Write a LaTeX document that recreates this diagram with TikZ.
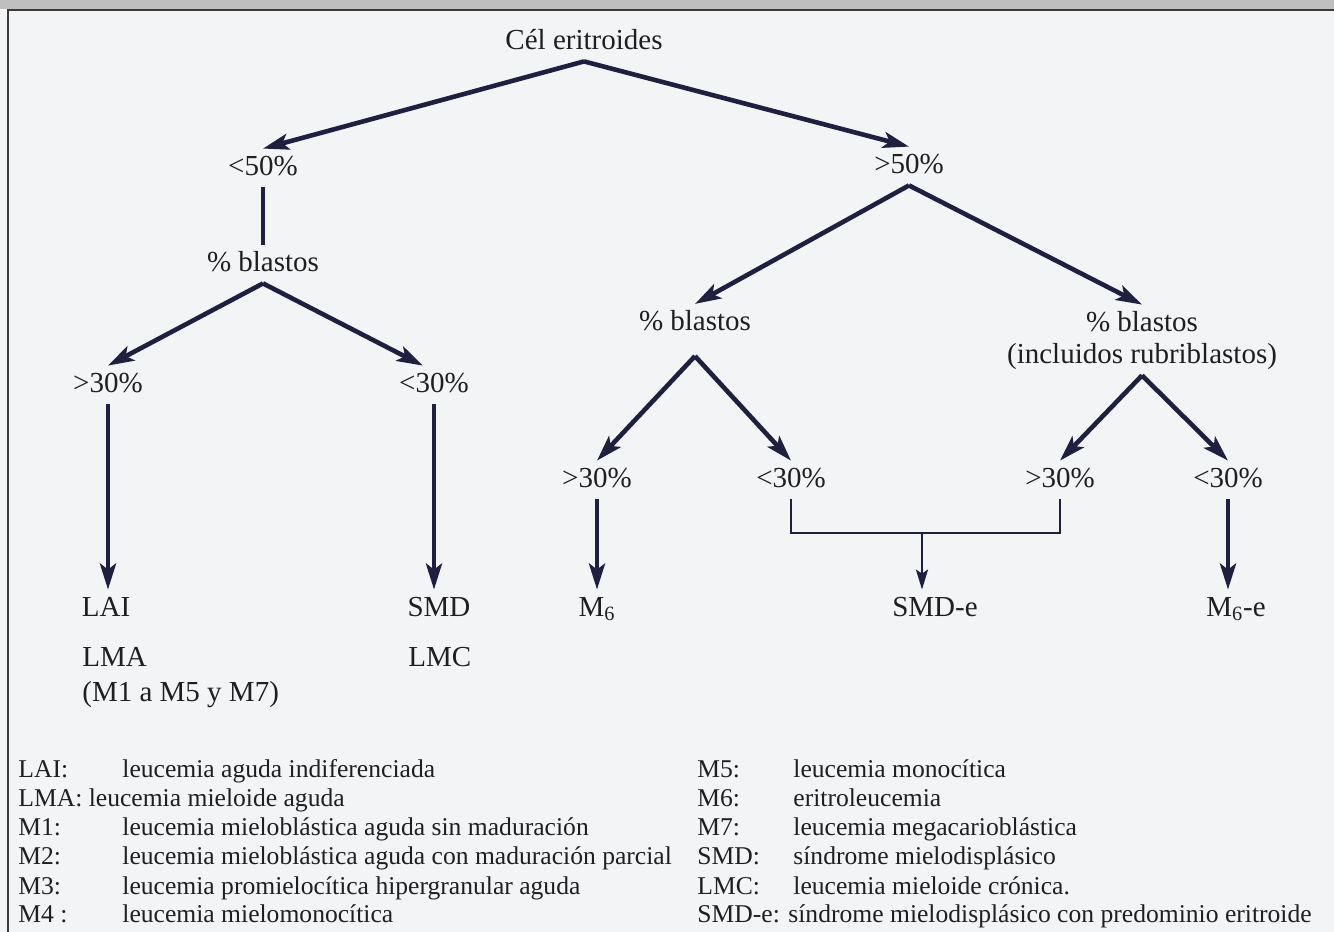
\documentclass[tikz,border=0pt]{standalone}
\usepackage{fontspec}
\setmainfont{Liberation Serif}
\usetikzlibrary{arrows.meta}

\definecolor{ink}{HTML}{1F1F40}
\definecolor{paper}{HTML}{F3F4F6}
\definecolor{frame}{HTML}{3A3A3A}

\tikzset{
  lbl/.style={inner xsep=2pt, inner ysep=3pt, text height=10pt, text depth=3pt,
    text=black!88, font=\fontsize{14.5}{17}\selectfont},
  leg/.style={anchor=west, inner sep=2pt, text height=9pt, text depth=2.5pt,
    text=black!88, font=\fontsize{12.8}{15}\selectfont},
  arr/.style={ink, line width=2.3pt, -{Stealth[length=13pt,width=8pt,inset=3pt]}},
  arrthin/.style={ink, line width=1.3pt, -{Stealth[length=10pt,width=6pt,inset=2pt]}},
  bar/.style={ink, line width=2.3pt},
  brk/.style={ink, line width=1.3pt}
}

\begin{document}
\begin{tikzpicture}[x=0.5pt,y=-0.5pt]
  \fill[paper] (0,0) rectangle (1334,932);
  \useasboundingbox (0,0) rectangle (1334,932);
  \fill[black!25] (0,0) rectangle (1334,9);
  \draw[frame, line width=1pt] (8,932) -- (8,10) -- (1334,10);

  % tree
  \node[lbl] (cel) at (584,42) {Cél eritroides};
  \node[lbl] (lt50) at (263,168) {<50\%};
  \node[lbl] (gt50) at (909,166) {>50\%};

  \node[lbl] (blaA) at (263,264) {\% blastos};
  \node[lbl] (gt30a) at (108,385) {>30\%};
  \node[lbl] (lt30a) at (434,385) {<30\%};

  \node[lbl, text depth=9.7pt] (blaB) at (695,330) {\% blastos};
  \node[lbl] (blaC) at (1142,324) {\% blastos};
  \node[lbl] (rubC) at (1142,356) {(incluidos rubriblastos)};

  \node[lbl] (gt30b) at (597,480) {>30\%};
  \node[lbl] (lt30b) at (791,480) {<30\%};
  \node[lbl] (gt30c) at (1060,480) {>30\%};
  \node[lbl] (lt30c) at (1228,480) {<30\%};

  \node[lbl] (lai) at (106,609) {LAI};
  \node[lbl] (smd) at (439,609) {SMD};
  \node[lbl] (m6) at (597,609) {M\textsubscript{6}};
  \node[lbl] (smde) at (935,609) {SMD-e};
  \node[lbl] (m6e) at (1236,609) {M\textsubscript{6}-e};

  \node[lbl, anchor=west] (lma) at (78,659) {LMA};
  \node[lbl, anchor=west] (lmaM) at (78,694) {(M1 a M5 y M7)};
  \node[lbl, anchor=west] (lmc) at (404,659) {LMC};

  \draw[arr] (cel.south) -- (lt50.north);
  \draw[arr] (cel.south) -- (gt50.north);
  \draw[bar] (lt50.south) -- (blaA.north);
  \draw[arr] (blaA.south) -- (gt30a.north);
  \draw[arr] (blaA.south) -- (lt30a.120);
  \draw[arr] (gt30a.south) -- (gt30a.south |- lai.north);
  \draw[arr] (lt30a.south) -- (lt30a.south |- smd.north);

  \draw[arr] (gt50.south) -- (blaB.north);
  \draw[arr] (gt50.south) -- (blaC.north);
  \draw[arr] (blaB.south) -- (gt30b.north);
  \draw[arr] (blaB.south) -- (lt30b.north);
  \draw[arr] (rubC.south) -- (gt30c.north);
  \draw[arr] (rubC.south) -- (lt30c.north);
  \draw[arr] (gt30b.south) -- (gt30b.south |- m6.north);
  \draw[arr] (lt30c.south) -- (lt30c.south |- m6e.north);

  \coordinate (join) at (922,533);
  \draw[brk] (lt30b.south) |- (join) -| (gt30c.south);
  \draw[arrthin] (join) -- (join |- smde.north);

  % legend
  \node[leg] (kLAI) at (14,771) {LAI:};
  \node[leg] (dLAI) at (118,771) {leucemia aguda indiferenciada};
  \node[leg] (kLMA) at (14,800) {LMA: leucemia mieloide aguda};
  \node[leg] (kM1) at (14,829) {M1:};
  \node[leg] (dM1) at (118,829) {leucemia mieloblástica aguda sin maduración};
  \node[leg] (kM2) at (14,858) {M2:};
  \node[leg] (dM2) at (118,858) {leucemia mieloblástica aguda con maduración parcial};
  \node[leg] (kM3) at (14,888) {M3:};
  \node[leg] (dM3) at (118,888) {leucemia promielocítica hipergranular aguda};
  \node[leg] (kM4) at (14,916) {M4 :};
  \node[leg] (dM4) at (118,916) {leucemia mielomonocítica};

  \node[leg] (kM5) at (693,771) {M5:};
  \node[leg] (dM5) at (789,771) {leucemia monocítica};
  \node[leg] (kM6) at (693,800) {M6:};
  \node[leg] (dM6) at (789,800) {eritroleucemia};
  \node[leg] (kM7) at (693,829) {M7:};
  \node[leg] (dM7) at (789,829) {leucemia megacarioblástica};
  \node[leg] (kSMD) at (693,858) {SMD:};
  \node[leg] (dSMD) at (789,858) {síndrome mielodisplásico};
  \node[leg] (kLMC) at (693,888) {LMC:};
  \node[leg] (dLMC) at (789,888) {leucemia mieloide crónica.};
  \node[leg] (kSMDe) at (693,916) {SMD-e: síndrome mielodisplásico con predominio eritroide};
\end{tikzpicture}
\end{document}
